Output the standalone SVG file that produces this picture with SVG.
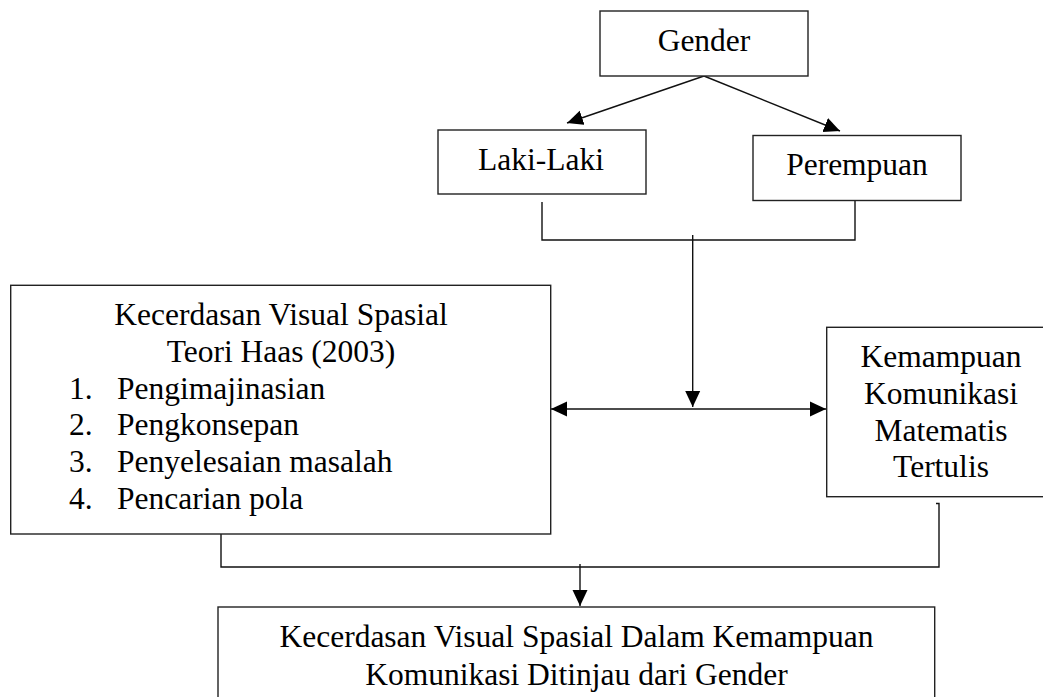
<svg xmlns="http://www.w3.org/2000/svg" width="1043" height="697" viewBox="0 0 1043 697">
  <style>
    .box { fill: #ffffff; stroke: #222222; stroke-width: 1.4; }
    .t { font-family: "Liberation Serif", "Times New Roman", serif; font-size: 31.5px; fill: #000000; }
    .c { text-anchor: middle; }
    .ln { fill: none; stroke: #111111; stroke-width: 1.4; }
  </style>
  <defs>
    <marker id="ah" markerUnits="userSpaceOnUse" markerWidth="18" markerHeight="16" refX="16" refY="8" orient="auto-start-reverse">
      <path d="M0,0.5 L16,8 L0,15.5 z" fill="#000000"/>
    </marker>
  </defs>
  <rect width="1043" height="697" fill="#ffffff"/>

  <g id="connectors">
    <line class="ln" x1="704" y1="76" x2="567" y2="123" marker-end="url(#ah)"/>
    <line class="ln" x1="704" y1="76" x2="840" y2="131" marker-end="url(#ah)"/>
    <polyline class="ln" points="542,202 542,240 855,240 855,200"/>
    <line class="ln" x1="692.7" y1="235" x2="692.7" y2="407" marker-end="url(#ah)"/>
    <line class="ln" x1="551" y1="409" x2="826" y2="409" marker-start="url(#ah)" marker-end="url(#ah)"/>
    <polyline class="ln" points="221,531 221,567 939,567 939,503.5 936,503.5"/>
    <line class="ln" x1="580" y1="564" x2="580" y2="606" marker-end="url(#ah)"/>
  </g>

  <g id="gender">
    <rect class="box" x="600" y="11" width="208" height="65"/>
    <text class="t c" x="704" y="51">Gender</text>
  </g>

  <g id="laki-laki">
    <rect class="box" x="438" y="130" width="208" height="64"/>
    <text class="t c" x="541" y="170">Laki-Laki</text>
  </g>

  <g id="perempuan">
    <rect class="box" x="753" y="135.5" width="208" height="65"/>
    <text class="t c" x="857" y="175">Perempuan</text>
  </g>

  <g id="kecerdasan">
    <rect class="box" x="10.7" y="285.3" width="540" height="248.7"/>
    <text class="t c" x="281" y="325">Kecerdasan Visual Spasial</text>
    <text class="t c" x="281" y="362">Teori Haas (2003)</text>
    <text class="t" x="69" y="398.5">1.</text>
    <text class="t" x="117" y="398.5">Pengimajinasian</text>
    <text class="t" x="69" y="435">2.</text>
    <text class="t" x="117" y="435">Pengkonsepan</text>
    <text class="t" x="69" y="472">3.</text>
    <text class="t" x="117" y="472">Penyelesaian masalah</text>
    <text class="t" x="69" y="509">4.</text>
    <text class="t" x="117" y="509">Pencarian pola</text>
  </g>

  <g id="kemampuan">
    <rect class="box" x="826.7" y="327.3" width="228" height="169.4"/>
    <text class="t c" x="941" y="367">Kemampuan</text>
    <text class="t c" x="941" y="404">Komunikasi</text>
    <text class="t c" x="941" y="441">Matematis</text>
    <text class="t c" x="941" y="477">Tertulis</text>
  </g>

  <g id="hasil">
    <rect class="box" x="218" y="607" width="716.7" height="120"/>
    <text class="t c" x="576.5" y="647">Kecerdasan Visual Spasial Dalam Kemampuan</text>
    <text class="t c" x="576.5" y="685">Komunikasi Ditinjau dari Gender</text>
  </g>
</svg>
